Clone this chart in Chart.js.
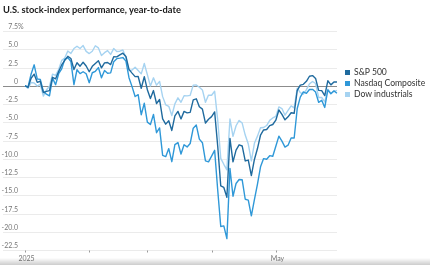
<!DOCTYPE html>
<html>
<head>
<meta charset="utf-8">
<script src="https://cdn.jsdelivr.net/npm/chart.js@4.4.1/dist/chart.umd.min.js"></script>
<style>
  html, body { margin: 0; padding: 0; background: #fff; }
  #wrap { position: relative; width: 430px; height: 265px; overflow: hidden; font-family: Lato, 'Noto Sans', sans-serif; }
  #title { position: absolute; left: 3px; top: 4px; font-weight: 700; font-size: 9.3px; color: #1a1a1a; white-space: nowrap; }
  #legend { position: absolute; left: 345px; top: 67px; font-size: 8.6px; color: #333; }
  #legend div { height: 11px; line-height: 11px; white-space: nowrap; }
  #legend span { display: inline-block; width: 5px; height: 5px; margin-right: 4px; vertical-align: 0px; }
  #shade { position: absolute; left: 0; right: 0; bottom: 0; height: 7px; background: linear-gradient(rgba(0,0,0,0), rgba(0,0,0,0.2)); }
  canvas { position: absolute; left: 0; top: 0; }
</style>
</head>
<body>
<div id="wrap">
  <canvas id="myChart" width="430" height="265"></canvas>
  <div id="title">U.S. stock-index performance, year-to-date</div>
  <div id="legend"></div>
  <div id="shade"></div>
</div>
<script>
// trading days per month (first point is the 2024 close)
const janDays = [2, 3, 6, 7, 8, 10, 13, 14, 15, 16, 17, 21, 22, 23, 24, 27, 28, 29, 30, 31];
const febDays = [3, 4, 5, 6, 7, 10, 11, 12, 13, 14, 18, 19, 20, 21, 24, 25, 26, 27, 28];
const marDays = [3, 4, 5, 6, 7, 10, 11, 12, 13, 14, 17, 18, 19, 20, 21, 24, 25, 26, 27, 28, 31];
const aprDays = [1, 2, 3, 4, 7, 8, 9, 10, 11, 14, 15, 16, 17, 21, 22, 23, 24, 25, 28, 29, 30];
const mayDays = [1, 2, 5, 6, 7, 8, 9, 12, 13, 14, 15, 16, 19, 20, 21, 22, 23, 27, 28, 29, 30];

// % change year-to-date
const sp500 = [0,
  -0.22, 1.03, 1.59, 0.47, 0.62, -0.93, -0.77, -0.66, 1.16, 0.95, 1.96, 2.85, 3.48, 4.03, 3.73, 2.22, 3.16, 2.68, 3.22, 2.70,
  1.92, 2.66, 3.06, 3.43, 2.45, 3.14, 3.18, 2.90, 3.97, 3.96, 4.22, 4.46, 4.01, 2.24, 1.73, 1.25, 1.26, -0.34, 1.24,
  -0.54, -1.76, -0.66, -2.43, -1.89, -4.54, -5.26, -4.80, -6.12, -4.13, -3.51, -4.54, -3.51, -3.72, -3.64, -1.94, -1.79, -2.88, -3.20, -5.11, -4.59,
  -4.23, -3.58, -8.25, -13.73, -13.93, -15.28, -7.22, -10.43, -8.81, -8.09, -8.25, -10.30, -10.18, -12.30, -10.10, -8.60, -6.75, -6.06, -6.00, -5.46, -5.31,
  -4.72, -3.32, -3.93, -4.67, -4.26, -3.70, -3.77, -0.64, 0.08, 0.19, 0.60, 1.30, 1.39, 1.00, -0.63, -0.67, -1.34, 0.68, 0.12, 0.52, 0.51];
const nasdaq = [0,
  -0.16, 1.61, 2.87, 0.93, 0.87, -0.77, -1.15, -1.38, 1.04, 0.14, 1.65, 2.31, 3.62, 3.85, 3.33, 0.16, 2.19, 1.66, 1.92, 1.64,
  0.42, 1.78, 1.98, 2.49, 1.10, 2.09, 1.72, 1.76, 3.29, 3.71, 3.78, 3.86, 3.37, 1.10, -0.12, -1.47, -1.22, -3.97, -2.40,
  -4.98, -5.31, -3.93, -6.43, -5.77, -9.54, -9.71, -8.61, -10.40, -8.06, -7.78, -9.36, -8.08, -8.38, -7.91, -5.81, -5.38, -7.31, -7.80, -10.29, -10.42,
  -9.64, -8.85, -14.29, -19.28, -19.20, -20.94, -11.32, -15.14, -13.39, -12.84, -12.88, -15.55, -15.66, -17.81, -15.59, -13.48, -11.11, -9.98, -10.07, -9.58, -9.66,
  -8.29, -6.90, -7.59, -8.40, -8.14, -7.16, -7.16, -3.12, -1.56, -0.85, -1.03, -0.52, -0.49, -0.87, -2.27, -1.99, -2.97, -0.58, -1.09, -0.70, -1.02];
const dow = [0,
  -0.36, 0.44, 0.38, -0.04, 0.21, -1.42, -0.58, -0.06, 1.59, 1.43, 2.22, 3.48, 3.79, 4.75, 4.42, 5.10, 5.42, 5.10, 5.50, 4.70,
  4.41, 4.73, 5.48, 5.18, 4.14, 4.53, 4.82, 4.29, 5.09, 4.70, 4.73, 4.90, 3.84, 2.08, 2.16, 2.53, 2.09, 1.63, 3.05,
  1.52, -0.05, 1.09, 0.08, 0.60, -1.49, -2.61, -2.81, -4.07, -2.48, -1.65, -2.26, -1.36, -1.39, -1.31, 0.09, 0.10, -0.21, -0.57, -2.26, -1.28,
  -1.30, -0.75, -4.70, -9.94, -10.76, -11.52, -4.55, -6.94, -5.48, -4.75, -5.11, -6.76, -7.99, -10.28, -7.89, -6.90, -5.76, -5.72, -5.45, -4.74, -4.41,
  -4.21, -2.89, -3.12, -4.03, -3.36, -2.76, -3.04, -0.32, -0.95, -1.16, -0.52, 0.26, 0.58, 0.31, -1.61, -1.61, -2.21, -0.47, -1.05, -0.77, -0.64];

const seriesNames = ['S&P 500', 'Nasdaq Composite', 'Dow industrials'];
const seriesColors = ['#1f6a9e', '#2f98d8', '#a6d3f1'];

const yTicks = [7.5, 5, 2.5, 0, -2.5, -5, -7.5, -10, -12.5, -15, -17.5, -20, -22.5];
const xTickDates = ['2024-12-31', '2025-02-03', '2025-03-03', '2025-04-01', '2025-05-01'];
const xTickLabels = ['2025', '', '', '', 'May'];

const pad = n => String(n).padStart(2, '0');
const dates = ['2024-12-31'];
[janDays, febDays, marDays, aprDays, mayDays].forEach((days, m) => {
  days.forEach(d => dates.push('2025-' + pad(m + 1) + '-' + pad(d)));
});

const axisPainter = {
  id: 'axisPainter',
  beforeDatasetsDraw(chart) {
    const { ctx, chartArea, scales: { x, y } } = chart;
    ctx.save();
    ctx.font = '7px Lato, sans-serif';
    ctx.fillStyle = '#777';
    ctx.lineWidth = 1;
    yTicks.forEach(v => {
      const py = Math.round(y.getPixelForValue(v)) + 0.5;
      ctx.strokeStyle = v === 0 ? '#8c8c8c' : '#ebebeb';
      ctx.beginPath();
      ctx.moveTo(3, py);
      ctx.lineTo(chartArea.right, py);
      ctx.stroke();
      const txt = v === 0 ? '0' : v.toFixed(1);
      ctx.textAlign = 'right';
      ctx.textBaseline = 'alphabetic';
      ctx.fillText(txt, 18, py - 2.5);
      if (v === yTicks[0]) {
        ctx.textAlign = 'left';
        ctx.fillText('%', 18, py - 2.5);
      }
    });
    const base = Math.round(chartArea.bottom) + 0.5;
    ctx.strokeStyle = '#999';
    ctx.textAlign = 'center';
    xTickDates.forEach((d, i) => {
      const px = Math.round(x.getPixelForValue(dates.indexOf(d))) + 0.5;
      ctx.beginPath();
      ctx.moveTo(px, base);
      ctx.lineTo(px, base + 2);
      ctx.stroke();
      if (xTickLabels[i]) ctx.fillText(xTickLabels[i], px + 1, base + 10);
    });
    ctx.restore();
  }
};

const seriesData = [sp500, nasdaq, dow];

new Chart(document.getElementById('myChart'), {
  type: 'line',
  data: {
    labels: dates,
    datasets: seriesData.map((vals, i) => ({
      label: seriesNames[i],
      data: vals,
      borderColor: seriesColors[i],
      borderWidth: 1.4,
      pointRadius: 0,
      tension: 0,
      borderJoinStyle: 'round'
    }))
  },
  options: {
    responsive: false,
    animation: false,
    layout: { padding: { left: 25, right: 93, top: 31, bottom: 15 } },
    plugins: { legend: { display: false }, tooltip: { enabled: false } },
    scales: {
      x: { type: 'category', display: false, offset: false },
      y: { display: false, min: -22.5, max: 7.5 }
    }
  },
  plugins: [axisPainter]
});

const legend = document.getElementById('legend');
seriesNames.forEach((name, i) => {
  const row = document.createElement('div');
  const sw = document.createElement('span');
  sw.style.background = seriesColors[i];
  row.appendChild(sw);
  row.appendChild(document.createTextNode(name));
  legend.appendChild(row);
});
</script>
</body>
</html>
